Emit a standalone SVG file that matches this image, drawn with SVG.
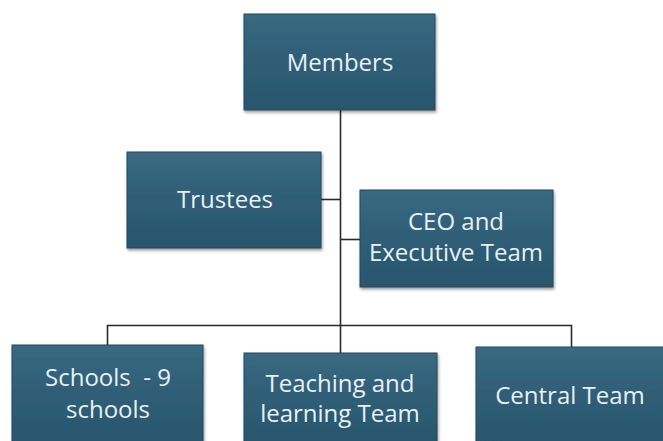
<svg xmlns="http://www.w3.org/2000/svg" width="663" height="441" viewBox="0 0 663 441">
  <defs>
    <linearGradient id="boxFill" x1="0" y1="0" x2="0" y2="1">
      <stop offset="0" stop-color="#396a82"/>
      <stop offset="0.5" stop-color="#2e5e76"/>
      <stop offset="1" stop-color="#29566d"/>
    </linearGradient>
    <filter id="shadow" x="-10%" y="-10%" width="125%" height="130%">
      <feGaussianBlur in="SourceAlpha" stdDeviation="1.5"/>
      <feOffset dx="1" dy="2" result="b"/>
      <feComponentTransfer><feFuncA type="linear" slope="0.4"/></feComponentTransfer>
      <feMerge><feMergeNode/><feMergeNode in="SourceGraphic"/></feMerge>
    </filter>
  </defs>
  <style>
    .box { fill: url(#boxFill); stroke: #24485c; stroke-width: 1; filter: url(#shadow); }
    .label { font-family: "Open Sans", "Noto Sans", sans-serif; font-size: 24px; fill: #e9f0f4; text-anchor: middle; white-space: pre; }
    .link { stroke: #2a2a2a; stroke-width: 1.6; fill: none; }
  </style>
  <rect width="663" height="441" fill="#ffffff"/>

  <!-- connectors -->
  <g id="connectors">
    <path class="link" d="M340.5 110 V353"/>
    <path class="link" d="M321 199.5 H340.5"/>
    <path class="link" d="M340.5 239.5 H360"/>
    <path class="link" d="M107.5 345 V325.5 H571.5 V347"/>
  </g>

  <g id="members">
    <rect class="box" x="244" y="14" width="191" height="96"/>
    <text class="label" x="340" y="71">Members</text>
  </g>

  <g id="trustees">
    <rect class="box" x="127" y="152" width="194" height="96"/>
    <text class="label" x="225" y="208">Trustees</text>
  </g>

  <g id="ceo">
    <rect class="box" x="360" y="190" width="193" height="97"/>
    <text class="label" x="456" y="230">CEO and</text>
    <text class="label" x="456" y="261">Executive Team</text>
  </g>

  <g id="schools">
    <rect class="box" x="12" y="345" width="191" height="100"/>
    <text class="label" x="108" y="386" xml:space="preserve">Schools  - 9</text>
    <text class="label" x="108" y="418">schools</text>
  </g>

  <g id="teaching">
    <rect class="box" x="244" y="353" width="193" height="92"/>
    <text class="label" x="340" y="392">Teaching and</text>
    <text class="label" x="340" y="422">learning Team</text>
  </g>

  <g id="central">
    <rect class="box" x="476" y="347" width="192" height="98"/>
    <text class="label" x="570" y="404">Central Team</text>
  </g>
</svg>
